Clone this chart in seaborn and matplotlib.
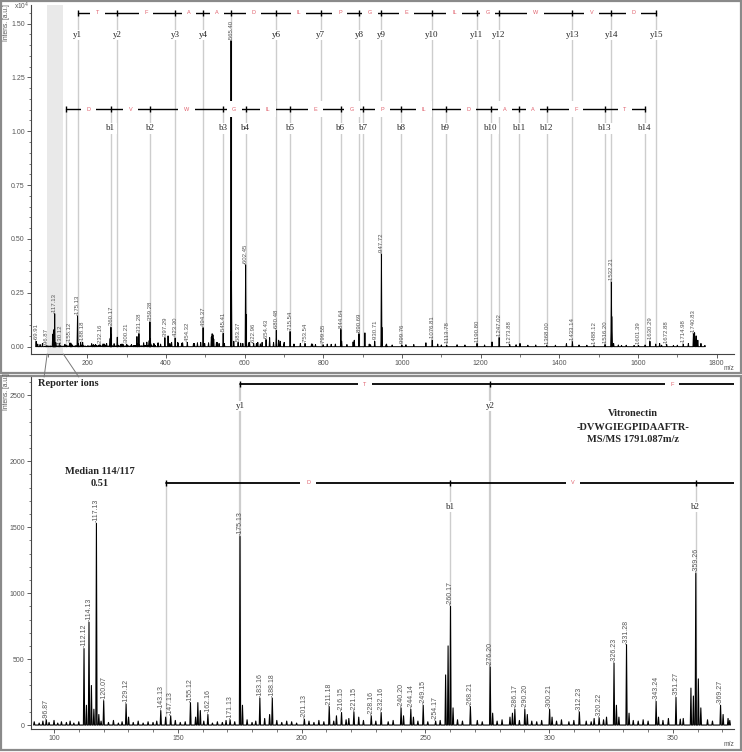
import numpy as np
import pandas as pd
import seaborn as sns
import matplotlib.pyplot as plt
from matplotlib.patches import Rectangle, ConnectionPatch
from matplotlib.ticker import MultipleLocator, FuncFormatter

# ---- spectrum: low mass region (reporter ions + first fragments), a.u.
low_mz = [96.87, 112.12, 113.1, 114.13, 115.1, 116.1, 117.13, 118.1, 120.07, 129.12,
          130.12, 143.13, 145.1, 147.13, 155.12, 157.2, 158.1, 159.1, 162.16, 171.13,
          175.13, 176.13, 183.16, 185.1, 187.1, 188.18, 201.13, 211.18, 214.1, 216.15,
          219.1, 221.15, 223.1, 228.16, 232.16, 240.20, 241.2, 244.14, 245.2, 249.15,
          254.17, 258.2, 259.2, 260.17, 261.2, 268.21, 276.20, 277.2, 284.2, 285.2,
          286.17, 290.20, 291.2, 300.21, 301.2, 312.23, 318.2, 320.22, 323.2, 326.23,
          327.2, 328.2, 331.28, 332.3, 343.24, 344.2, 348.2, 351.27, 354.2, 357.3,
          358.3, 359.26, 360.3, 361.3, 369.27, 370.3, 372.3]
low_int = [40, 580, 150, 780, 300, 120, 1530, 80, 185, 160,
           60, 110, 60, 70, 170, 60, 170, 110, 80, 40,
           1430, 150, 205, 50, 80, 205, 45, 140, 70, 95,
           50, 100, 60, 70, 95, 130, 70, 120, 60, 150,
           30, 380, 600, 900, 130, 140, 440, 90, 60, 90,
           120, 120, 80, 120, 60, 100, 50, 55, 60, 470,
           150, 60, 610, 90, 180, 60, 50, 210, 50, 280,
           220, 1150, 350, 130, 150, 80, 50]

# ---- spectrum: rest of the mass range
high_mz = [69.91, 74.0, 80.0, 86.0, 380.2, 386.3, 397.29, 405.3, 414.3, 423.30,
           430.3, 442.3, 454.32, 472.3, 488.3, 494.37, 498.4, 508.3, 515.4, 517.4,
           519.4, 521.4, 528.4, 545.41, 548.4, 565.40, 566.4, 572.4, 583.37, 595.4,
           602.45, 603.45, 612.4, 622.96, 633.4, 644.4, 654.43, 663.5, 673.5, 680.48,
           686.5, 690.5, 700.5, 715.54, 725.5, 741.6, 753.54, 772.6, 799.55, 830.6,
           844.64, 846.6, 875.7, 878.7, 890.69, 905.7, 916.7, 930.71, 947.72, 948.72,
           960.7, 999.76, 1060.8, 1076.81, 1090.8, 1113.78, 1160.0, 1190.80, 1228.9, 1247.02,
           1273.88, 1300.0, 1368.00, 1418.0, 1433.14, 1488.12, 1516.20, 1532.21, 1533.21, 1538.0,
           1558.0, 1601.39, 1618.0, 1630.29, 1645.0, 1655.0, 1672.88, 1714.98, 1728.0, 1740.83,
           1743.8, 1747.8, 1752.0, 1760.0]
high_int = [250, 120, 100, 150, 150, 120, 420, 500, 200, 400,
            150, 180, 200, 150, 200, 880, 150, 180, 450, 600,
            550, 350, 200, 620, 150, 14200, 3500, 250, 200, 150,
            3800, 1500, 200, 150, 200, 200, 330, 420, 200, 760,
            300, 250, 200, 700, 120, 150, 150, 120, 90, 120,
            800, 250, 220, 300, 600, 640, 120, 250, 4300, 900,
            120, 80, 180, 300, 120, 70, 80, 150, 220, 420,
            100, 150, 60, 140, 230, 50, 100, 3000, 1400, 150,
            60, 60, 80, 250, 120, 150, 100, 120, 150, 600,
            650, 500, 300, 150]

# ---- baseline ripple
noise_mz = [92, 94, 95.5, 98, 100, 101.5, 103, 105, 106.5, 108, 110, 119, 122, 124, 126,
            127.5, 132, 134, 136, 138, 140, 141.5, 149, 151, 153, 160.5, 164, 166, 168,
            169.5, 173, 178, 180, 181.5, 190, 192, 194, 196, 198, 203, 205, 207, 209, 213,
            218, 225, 230, 235, 237, 247, 251, 256, 263, 265, 271, 273, 279, 281, 288, 293,
            295, 297, 303, 305, 308, 310, 315, 317, 322, 334, 336, 338, 340, 346, 353, 364,
            366, 373]
noise_int = [25, 15, 30, 20, 35, 15, 25, 20, 30, 15, 25, 30, 20, 35, 15,
             25, 20, 30, 15, 25, 20, 30, 35, 20, 25, 30, 15, 25, 20,
             35, 25, 40, 20, 30, 35, 20, 30, 25, 15, 30, 20, 35, 25, 30,
             40, 35, 30, 25, 35, 30, 25, 35, 40, 30, 35, 25, 30, 40, 35, 30,
             25, 35, 30, 40, 25, 35, 30, 25, 40, 35, 30, 40, 30, 35, 45, 40,
             30, 35]
noise_high_mz = [380, 410, 430, 440, 470, 480, 530, 535, 590, 610, 630, 640, 700, 725,
                 770, 780, 810, 820, 860, 920, 960, 975, 1010, 1030, 1100, 1140, 1210,
                 1290, 1320, 1340, 1390, 1450, 1470, 1550, 1570, 1590, 1660, 1690, 1700,
                 1770]
noise_high_int = [180, 150, 200, 160, 140, 180, 200, 150, 160, 180, 150, 130, 120, 110,
                  130, 100, 120, 110, 100, 90, 100, 80, 90, 100, 80, 90, 80,
                  90, 70, 80, 70, 80, 70, 80, 70, 60, 70, 60, 70, 60]

# ---- peak labels
top_label_mz = [69.91, 96.87, 117.13, 130.12, 155.12, 175.13, 188.18, 232.16, 260.17,
                300.21, 331.28, 359.28, 397.29, 423.30, 454.32, 494.37, 545.41, 565.40,
                583.37, 602.45, 622.96, 654.43, 680.48, 715.54, 753.54, 799.55, 844.64,
                890.69, 930.71, 947.72, 999.76, 1076.81, 1113.78, 1190.80, 1247.02,
                1273.88, 1368.00, 1433.14, 1488.12, 1516.20, 1532.21, 1601.39, 1630.29,
                1672.88, 1714.98, 1740.83]
bottom_label_mz = [96.87, 112.12, 114.13, 117.13, 120.07, 129.12, 143.13, 147.13, 155.12,
                   162.16, 171.13, 175.13, 183.16, 188.18, 201.13, 211.18, 216.15, 221.15,
                   228.16, 232.16, 240.20, 244.14, 249.15, 254.17, 260.17, 268.21, 276.20,
                   286.17, 290.20, 300.21, 312.23, 320.22, 326.23, 331.28, 343.24, 351.27,
                   359.26, 369.27]

# ---- fragment ladders (DVWGIEGPIDAAFTR)
b_ion_mz = [145.11, 260.14, 359.20, 545.28, 602.31, 715.39, 844.43, 901.45, 998.51,
            1111.59, 1226.62, 1297.65, 1368.69, 1515.76, 1616.81]
b_ion_names = ["", "b1", "b2", "b3", "b4", "b5", "b6", "b7", "b8", "b9", "b10", "b11",
               "b12", "b13", "b14"]
b_residues = ["D", "V", "W", "G", "IL", "E", "G", "P", "IL", "D", "A", "A", "F", "T"]
y_ion_mz = [175.12, 276.17, 423.24, 494.27, 565.31, 680.34, 793.42, 890.47, 947.49,
            1076.54, 1189.62, 1246.64, 1432.72, 1531.79, 1646.82]
y_ion_names = ["y1", "y2", "y3", "y4", "y5", "y6", "y7", "y8", "y9", "y10", "y11", "y12",
               "y13", "y14", "y15"]
y_residues = ["T", "F", "A", "A", "D", "IL", "P", "G", "E", "IL", "G", "W", "V", "D"]

sns.set_style("ticks")
plt.rcParams["font.family"] = ["Liberation Sans", "DejaVu Sans"]
SERIF = ["Liberation Serif", "DejaVu Serif"]
RED = "#e0606c"
LINE_GRAY = "#cdcdcd"
TXT = "#555555"

all_mz = low_mz + high_mz
all_int = low_int + high_int


def profile(mz, inten, width):
    order = np.argsort(mz)
    xs, ys = [], []
    for i in order:
        xs += [mz[i] - width, mz[i], mz[i] + width]
        ys += [0, inten[i], 0]
    return pd.DataFrame({"mz": xs, "intensity": ys})


def peak_height(m):
    i = int(np.argmin(np.abs(np.array(all_mz) - m)))
    return all_int[i]


def ladder(ax, ions, names, residues, y_line, y_label, skip=(), lw=1.0, gray_lw=1.0,
           fs=6.5, rfs=4.0, xmax=None):
    ax.vlines(ions, 0, y_line, color=LINE_GRAY, lw=gray_lw, zorder=0)
    ax.plot(ions, [y_line] * len(ions), color="black", lw=lw, marker="|", ms=4, mew=1,
            zorder=3)
    for a, b, r in zip(ions[:-1], ions[1:], residues):
        if xmax is None or (a + b) / 2 < xmax:
            ax.text((a + b) / 2, y_line, r, color=RED, fontsize=rfs, ha="center",
                    va="center", zorder=4,
                    bbox=dict(fc="white", ec="none", pad=4))
    for x, n in zip(ions, names):
        if n and n not in skip and (xmax is None or x < xmax):
            ax.text(x, y_label, n, family=SERIF, fontsize=fs, ha="center", va="center",
                    zorder=4, bbox=dict(fc="white", ec="none", pad=0.8))


def style_axes(ax):
    sns.despine(ax=ax)
    for s in ["left", "bottom"]:
        ax.spines[s].set_color("#444444")
        ax.spines[s].set_linewidth(0.8)
    ax.tick_params(which="major", length=3, width=0.6, colors="#444444",
                   labelsize=5, labelcolor=TXT, pad=1.5)
    ax.tick_params(which="minor", length=1.8, width=0.5, colors="#444444")
    ax.set_xlabel("")
    ax.set_ylabel("")


fig = plt.figure(figsize=(7.42, 7.52), dpi=100)
W, H = 742, 752


def fx(px):
    return px / W


def fy(py):
    return 1 - py / H


ax_top = fig.add_axes([fx(31), fy(354), fx(734) - fx(31), fy(5) - fy(354)])
ax_bot = fig.add_axes([fx(31), fy(729), fx(734) - fx(31), fy(377) - fy(729)])

# ---------------- top panel: full spectrum
ax_top.axvspan(98, 139, color="#e9e9e9", zorder=0, lw=0)
ladder(ax_top, y_ion_mz, y_ion_names, y_residues, 15500, 14470, skip=("y5",))
ladder(ax_top, b_ion_mz, b_ion_names, b_residues, 11030, 10130)
top_df = profile(all_mz + noise_mz + noise_high_mz, all_int + noise_int + noise_high_int, 1.2)
sns.lineplot(data=top_df, x="mz", y="intensity", estimator=None, sort=False,
             color="black", lw=0.7, ax=ax_top, zorder=2)
for m in top_label_mz:
    ax_top.text(m, peak_height(m) + 40, f"-{m:.2f}", rotation=90, ha="center",
                va="bottom", fontsize=4.3, color=TXT, zorder=5)
ax_top.set_xlim(56.9, 1844)
ax_top.set_ylim(-340, 15860)
ax_top.xaxis.set_major_locator(MultipleLocator(200))
ax_top.xaxis.set_minor_locator(MultipleLocator(100))
ax_top.yaxis.set_major_locator(MultipleLocator(2500))
ax_top.yaxis.set_minor_locator(MultipleLocator(500))
ax_top.yaxis.set_major_formatter(FuncFormatter(lambda v, p: f"{v / 1e4:.2f}"))
style_axes(ax_top)

# ---------------- bottom panel: zoom on reporter region
xlo, xhi = 90.7, 374.7
ladder(ax_bot, y_ion_mz, y_ion_names, y_residues, 2585, 2419, lw=1.3, gray_lw=1.6,
       xmax=xhi)
ladder(ax_bot, b_ion_mz, b_ion_names, b_residues, 1838, 1654, lw=1.3, gray_lw=1.0,
       xmax=xhi)
bot_df = profile(low_mz + noise_mz, low_int + noise_int, 0.25)
sns.lineplot(data=bot_df, x="mz", y="intensity", estimator=None, sort=False,
             color="black", lw=0.8, ax=ax_bot, zorder=2)
for m in bottom_label_mz:
    ax_bot.text(m, peak_height(m) + 8, f"-{m:.2f}", rotation=90, ha="center",
                va="bottom", fontsize=5, color=TXT, zorder=5)
ax_bot.set_xlim(xlo, xhi)
ax_bot.set_ylim(-30, 2639)
ax_bot.xaxis.set_major_locator(MultipleLocator(50))
ax_bot.xaxis.set_minor_locator(MultipleLocator(10))
ax_bot.yaxis.set_major_locator(MultipleLocator(500))
ax_bot.yaxis.set_minor_locator(MultipleLocator(100))
style_axes(ax_bot)

# ---------------- annotations
fig.text(fx(38), fy(384), "Reporter ions", family=SERIF, fontsize=7.5,
         fontweight="bold", ha="left", va="center")
fig.text(fx(100), fy(471), "Median 114/117", family=SERIF, fontsize=7.5,
         fontweight="bold", ha="center", va="center")
fig.text(fx(100), fy(483), "0.51", family=SERIF, fontsize=7.5,
         fontweight="bold", ha="center", va="center")
for txt, py in [("Vitronectin", 414), ("-DVWGIEGPIDAAFTR-", 427),
                ("MS/MS 1791.087m/z", 440)]:
    fig.text(fx(633), fy(py), txt, family=SERIF, fontsize=7.5, fontweight="bold",
             ha="center", va="center")

for py in (4, 373):
    fig.text(fx(7), fy(py), "Intens. [a.u.]", rotation=90, fontsize=4.8, color=TXT,
             ha="center", va="top")
fig.text(fx(22), fy(6), "x10$^4$", fontsize=4.8, color=TXT, ha="center", va="center")
fig.text(fx(729), fy(369), "m/z", fontsize=4.8, color=TXT, ha="center", va="center")
fig.text(fx(729), fy(744), "m/z", fontsize=4.8, color=TXT, ha="center", va="center")

# panel frames
fig.add_artist(Rectangle((fx(1), fy(373)), fx(740), fy(1) - fy(373),
                         transform=fig.transFigure, fill=False, ec="#8a8a8a", lw=1.6))
fig.add_artist(Rectangle((fx(1), fy(750)), fx(740), fy(376) - fy(750),
                         transform=fig.transFigure, fill=False, ec="#8a8a8a", lw=1.6))

# zoom connectors
for xa, xb in [(98, 96.0), (139, 110.0)]:
    con = ConnectionPatch(xyA=(xa, -340), coordsA=ax_top.transData,
                          xyB=(xb, 2639), coordsB=ax_bot.transData,
                          color="#777777", lw=0.7)
    fig.add_artist(con)

plt.savefig("out.png", dpi=100)
